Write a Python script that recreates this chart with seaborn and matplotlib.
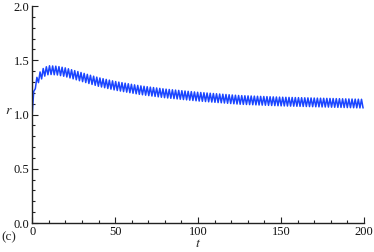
import numpy as np
import pandas as pd
import matplotlib.pyplot as plt
import seaborn as sns
from matplotlib.ticker import MultipleLocator

# envelope: band centre and half-height of the oscillation
t_env = [0, 1, 2, 4, 7, 10, 15, 20, 30, 40, 50, 65, 80, 100, 125, 150, 175, 200]
r_mid = [1.0, 1.2, 1.28, 1.34, 1.39, 1.41, 1.405, 1.39, 1.345, 1.30, 1.265,
         1.225, 1.195, 1.165, 1.135, 1.12, 1.11, 1.10]
r_amp = [0.0, 0.025, 0.035, 0.04, 0.04, 0.04, 0.04, 0.04, 0.04, 0.04,
         0.04, 0.04, 0.04, 0.04, 0.04, 0.04, 0.04, 0.04]
period = 1.9  # oscillation period in t

# zigzag between upper and lower edge of the band, one turn per half period
t = np.arange(0, 200 + 1e-9, period / 2)
sign = np.where(np.arange(len(t)) % 2 == 0, -1.0, 1.0)
r = np.interp(t, t_env, r_mid) + sign * np.interp(t, t_env, r_amp)
df = pd.DataFrame({'t': t, 'r': r})

sns.set_style('ticks')
plt.rcParams['font.family'] = ['Liberation Serif', 'DejaVu Serif']
plt.rcParams['mathtext.fontset'] = 'stix'

fig = plt.figure(figsize=(3.74, 2.52), dpi=100)
ax = fig.add_axes([0.086, 0.115, 0.887, 0.861])

sns.lineplot(data=df, x='t', y='r', ax=ax, color='#1a45ff', linewidth=1.1)

ax.set_xlim(0, 200)
ax.set_ylim(0, 2.0)
ax.xaxis.set_major_locator(MultipleLocator(50))
ax.xaxis.set_minor_locator(MultipleLocator(10))
ax.yaxis.set_major_locator(MultipleLocator(0.5))
ax.yaxis.set_minor_locator(MultipleLocator(0.1))
ax.yaxis.set_major_formatter(plt.FormatStrFormatter('%.1f'))

ax.tick_params(which='both', direction='in', labelsize=9, width=0.8,
               color='#222222', labelcolor='#111111')
ax.tick_params(which='major', length=4, pad=2)
ax.tick_params(which='minor', length=2)
for side in ['top', 'right']:
    ax.spines[side].set_visible(False)
for side in ['left', 'bottom']:
    ax.spines[side].set_linewidth(1.0)
    ax.spines[side].set_color('#222222')

ax.set_xlabel('$t$', fontsize=10, labelpad=0)
ax.set_ylabel('$r$', fontsize=10, rotation=0, labelpad=0)
ax.yaxis.set_label_coords(-0.07, 0.49)
ax.xaxis.set_label_coords(0.5, -0.065)
fig.text(0.005, 0.045, '(c)', fontsize=9.5)

plt.savefig('out.png', dpi=100)
plt.close()
